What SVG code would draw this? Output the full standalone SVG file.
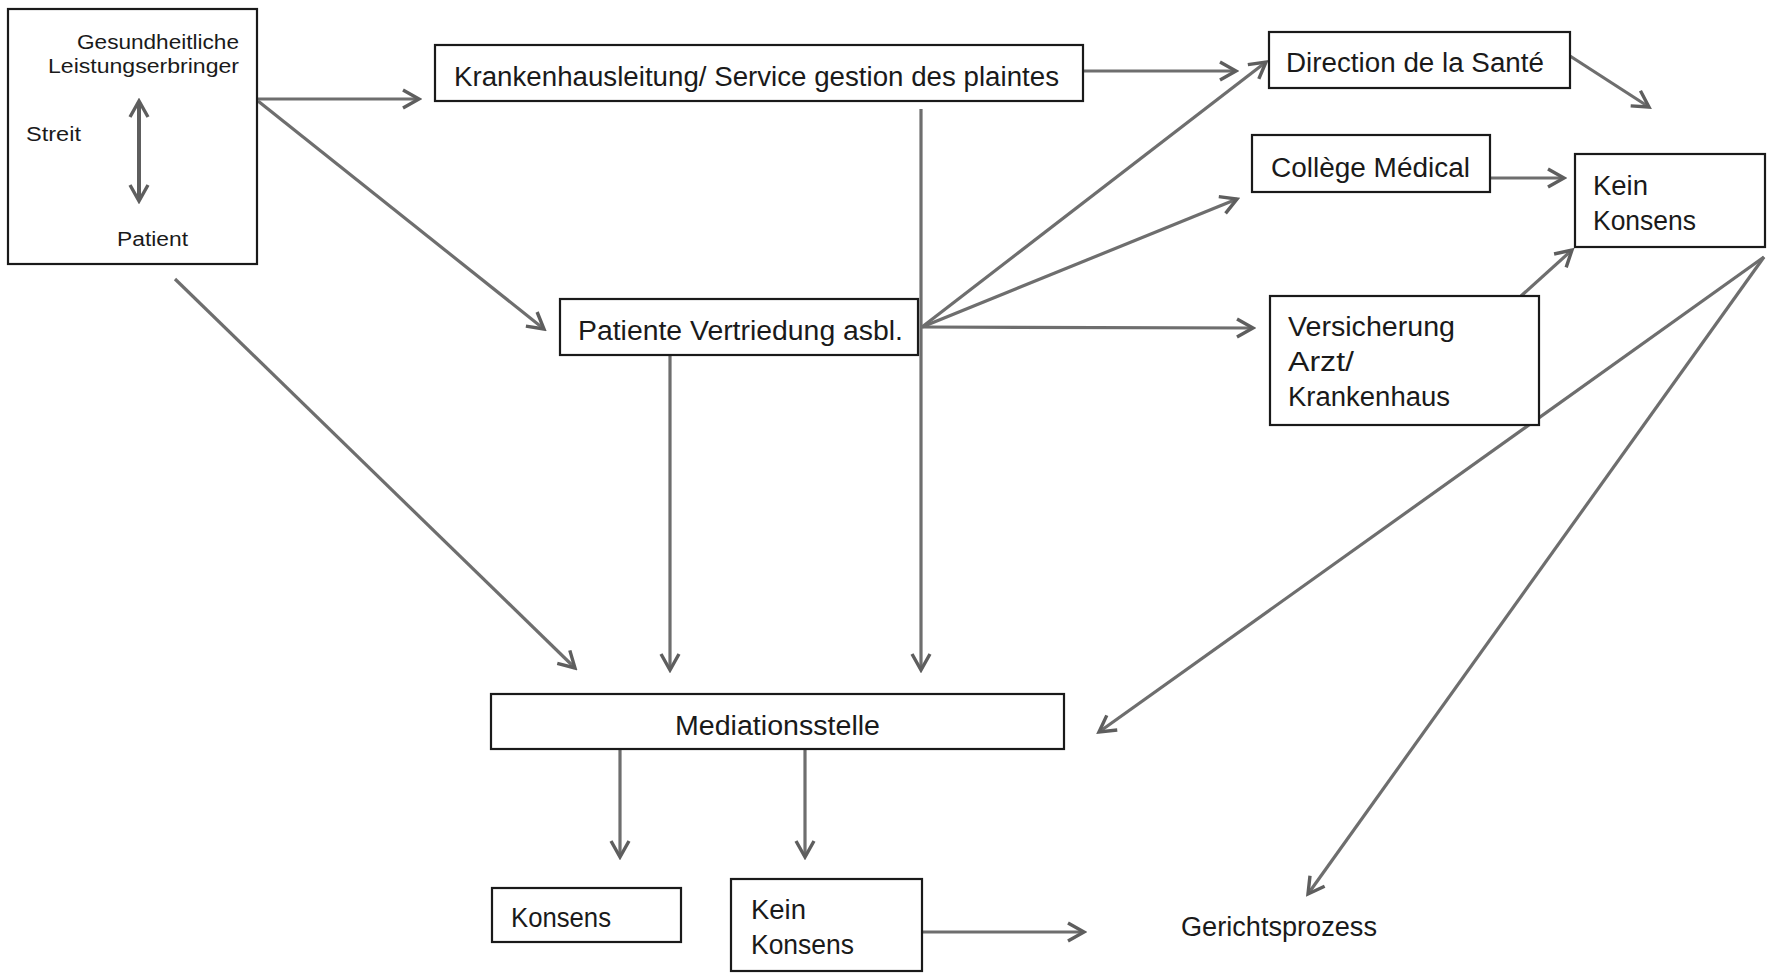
<svg xmlns="http://www.w3.org/2000/svg" width="1767" height="979" viewBox="0 0 1767 979">
<defs>
<style>
.box{fill:#fff;stroke:#1a1a1a;stroke-width:2.2}
.t{font-family:"Liberation Sans",Arial,sans-serif;fill:#1a1a1a}
.big{font-size:27px}
.sm{font-size:20px}
.c{fill:none;stroke:#6e6e6e;stroke-width:3.2}
</style>
<marker id="ah" viewBox="0 0 22 22" markerUnits="userSpaceOnUse" markerWidth="22" markerHeight="22" refX="19" refY="11" orient="auto-start-reverse">
<path d="M3,2 L19,11 L3,20" fill="none" stroke="#5e5e5e" stroke-width="3.4"/>
</marker>
</defs>
<rect width="1767" height="979" fill="#fff"/>

<g id="connectors">
<line class="c" x1="258" y1="99" x2="419" y2="99" marker-end="url(#ah)"/>
<line class="c" x1="258" y1="101" x2="544" y2="329" marker-end="url(#ah)"/>
<line class="c" x1="175" y1="279" x2="575" y2="668" marker-end="url(#ah)"/>
<line class="c" x1="921" y1="109" x2="921" y2="670" marker-end="url(#ah)"/>
<line class="c" x1="670" y1="355" x2="670" y2="670" marker-end="url(#ah)"/>
<line class="c" x1="1083" y1="71" x2="1236" y2="71" marker-end="url(#ah)"/>
<line class="c" x1="1570" y1="56" x2="1649" y2="107" marker-end="url(#ah)"/>
<line class="c" x1="922" y1="327" x2="1266" y2="62" marker-end="url(#ah)"/>
<line class="c" x1="922" y1="327" x2="1237" y2="199" marker-end="url(#ah)"/>
<line class="c" x1="922" y1="327" x2="1253" y2="328" marker-end="url(#ah)"/>
<line class="c" x1="1490" y1="178" x2="1564" y2="178" marker-end="url(#ah)"/>
<line class="c" x1="1521" y1="296" x2="1572" y2="250" marker-end="url(#ah)"/>
<line class="c" x1="1764" y1="257" x2="1099" y2="732" marker-end="url(#ah)"/>
<line class="c" x1="1764" y1="257" x2="1308" y2="894" marker-end="url(#ah)"/>
<line class="c" x1="620" y1="749" x2="620" y2="857" marker-end="url(#ah)"/>
<line class="c" x1="805" y1="749" x2="805" y2="857" marker-end="url(#ah)"/>
<line class="c" x1="922" y1="932" x2="1084" y2="932" marker-end="url(#ah)"/>
</g>

<g id="node-akteure">
<rect class="box" x="8" y="9" width="249" height="255"/>
<text class="t sm" x="77" y="49" textLength="162" lengthAdjust="spacingAndGlyphs">Gesundheitliche</text>
<text class="t sm" x="48" y="73" textLength="191" lengthAdjust="spacingAndGlyphs">Leistungserbringer</text>
<text class="t sm" x="26" y="141" textLength="55" lengthAdjust="spacingAndGlyphs">Streit</text>
<text class="t sm" x="117" y="246" textLength="71" lengthAdjust="spacingAndGlyphs">Patient</text>
<line x1="139" y1="101" x2="139" y2="201" fill="none" stroke="#5e5e5e" stroke-width="4" marker-start="url(#ah)" marker-end="url(#ah)"/>
</g>

<g id="node-krankenhausleitung">
<rect class="box" x="435" y="45" width="648" height="56"/>
<text class="t big" x="454" y="86" textLength="605" lengthAdjust="spacingAndGlyphs">Krankenhausleitung/ Service gestion des plaintes</text>
</g>

<g id="node-patiente">
<rect class="box" x="560" y="299" width="358" height="56"/>
<text class="t big" x="578" y="340" textLength="325" lengthAdjust="spacingAndGlyphs">Patiente Vertriedung asbl.</text>
</g>

<g id="node-direction">
<rect class="box" x="1269" y="32" width="301" height="56"/>
<text class="t big" x="1286" y="72" textLength="258" lengthAdjust="spacingAndGlyphs">Direction de la Santé</text>
</g>

<g id="node-college">
<rect class="box" x="1252" y="135" width="238" height="57"/>
<text class="t big" x="1271" y="177" textLength="199" lengthAdjust="spacingAndGlyphs">Collège Médical</text>
</g>

<g id="node-kein-konsens-rechts">
<rect class="box" x="1575" y="154" width="190" height="93"/>
<text class="t big" x="1593" y="195" textLength="55" lengthAdjust="spacingAndGlyphs">Kein</text>
<text class="t big" x="1593" y="230" textLength="103" lengthAdjust="spacingAndGlyphs">Konsens</text>
</g>

<g id="node-versicherung">
<rect class="box" x="1270" y="296" width="269" height="129"/>
<text class="t big" x="1288" y="336" textLength="167" lengthAdjust="spacingAndGlyphs">Versicherung</text>
<text class="t big" x="1288" y="371" textLength="66" lengthAdjust="spacingAndGlyphs">Arzt/</text>
<text class="t big" x="1288" y="406" textLength="162" lengthAdjust="spacingAndGlyphs">Krankenhaus</text>
</g>

<g id="node-mediation">
<rect class="box" x="491" y="694" width="573" height="55"/>
<text class="t big" x="675" y="735" textLength="205" lengthAdjust="spacingAndGlyphs">Mediationsstelle</text>
</g>

<g id="node-konsens">
<rect class="box" x="492" y="888" width="189" height="54"/>
<text class="t big" x="511" y="927" textLength="100" lengthAdjust="spacingAndGlyphs">Konsens</text>
</g>

<g id="node-kein-konsens-unten">
<rect class="box" x="731" y="879" width="191" height="92"/>
<text class="t big" x="751" y="919" textLength="55" lengthAdjust="spacingAndGlyphs">Kein</text>
<text class="t big" x="751" y="954" textLength="103" lengthAdjust="spacingAndGlyphs">Konsens</text>
</g>

<g id="node-gericht">
<text class="t big" x="1181" y="936" textLength="196" lengthAdjust="spacingAndGlyphs">Gerichtsprozess</text>
</g>
</svg>
